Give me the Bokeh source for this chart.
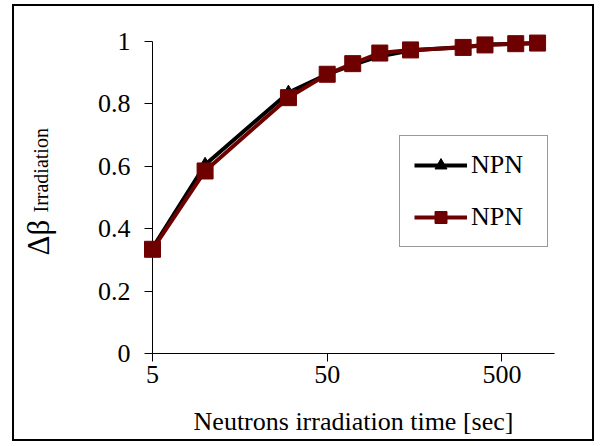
import math
from bokeh.plotting import figure
from bokeh.models import FixedTicker, Legend, LegendItem
from bokeh.core.properties import value
from bokeh.embed import file_html
from bokeh.resources import INLINE

# ---- data ----
time_s = [5, 10, 30, 50, 70, 100, 150, 300, 400, 600, 800]
npn_black = [0.338, 0.605, 0.836, 0.895, 0.925, 0.953, 0.971, 0.982, 0.990, 0.992, 0.995]
npn_red = [0.334, 0.585, 0.820, 0.895, 0.929, 0.963, 0.973, 0.981, 0.989, 0.993, 0.995]
x_ticks = [5, 50, 500]
x_tick_labels = ["5", "50", "500"]
y_ticks = [0, 0.2, 0.4, 0.6, 0.8, 1]
y_tick_labels = ["0", "0.2", "0.4", "0.6", "0.8", "1"]
series_labels = ["NPN", "NPN"]
x_title = "Neutrons irradiation time [sec]"
y_title = "Δβ"
y_title_sub = "Irradiation"

FONT = "Liberation Serif"
RED = "#6e0000"
X0, X1 = 5, 1000
FRAME_W, FRAME_H = 402, 312

p = figure(width=582, height=437, x_axis_type="log", x_range=(X0, X1), y_range=(0, 1),
           output_backend="svg", toolbar_location=None,
           min_border_left=138, min_border_right=42, min_border_top=35, min_border_bottom=90)
p.styles = {"border": "2px solid black", "margin-left": "12px", "margin-top": "4px"}
p.outline_line_color = None
p.grid.visible = False
p.background_fill_color = "white"
p.border_fill_color = "white"

# axes
p.xaxis.ticker = FixedTicker(ticks=x_ticks)
p.xaxis.major_label_overrides = dict(zip(x_ticks, x_tick_labels))
p.yaxis.ticker = FixedTicker(ticks=y_ticks)
p.yaxis.major_label_overrides = dict(zip(y_ticks, y_tick_labels))
for ax in (p.xaxis, p.yaxis):
    ax.minor_tick_line_color = None
    ax.major_tick_in = 0
    ax.major_tick_out = 8
    ax.axis_line_color = "black"
    ax.major_tick_line_color = "black"
    ax.major_label_text_font = FONT
    ax.major_label_text_font_size = "26px"
    ax.major_label_text_color = "black"
p.yaxis.major_label_standoff = 14
p.xaxis.major_label_standoff = 4
p.xaxis.axis_label = x_title
p.xaxis.axis_label_text_font = FONT
p.xaxis.axis_label_text_font_size = "26px"
p.xaxis.axis_label_text_font_style = "normal"
p.xaxis.axis_label_text_color = "black"
p.xaxis.axis_label_standoff = 21

# series
l1 = p.line(time_s, npn_black, line_color="black", line_width=4, level="overlay")
s1 = p.scatter(time_s, npn_black, marker="triangle", size=13, fill_color="black",
               line_color="black", level="overlay")
l2 = p.line(time_s, npn_red, line_color=RED, line_width=4, level="overlay")
s2 = p.scatter(time_s, npn_red, marker="square", size=16, fill_color=RED,
               line_color=RED, level="overlay")

legend = Legend(items=[LegendItem(label=series_labels[0], renderers=[l1, s1]),
                       LegendItem(label=series_labels[1], renderers=[l2, s2])],
                location=(247, 106), orientation="vertical")
legend.label_text_font = FONT
legend.label_text_font_size = "26px"
legend.label_text_color = "black"
legend.glyph_width = 53
legend.glyph_height = 30
legend.label_height = 30
legend.label_width = 62
legend.label_standoff = 4
legend.spacing = 22
legend.padding = 14
legend.margin = 0
legend.border_line_color = "#333333"
legend.border_line_width = 1
legend.background_fill_alpha = 1
p.add_layout(legend, "center")

# y-axis title drawn as text glyphs left of the frame (data coordinates)
decade_px = FRAME_W / math.log10(X1 / X0)
def x_at(px):
    return X0 * 10 ** (px / decade_px)

p.text(x=[x_at(-114)], y=[98 / FRAME_H], text=[y_title], angle=math.pi / 2,
       text_font=value(FONT), text_font_size="31px", text_align="left",
       text_baseline="alphabetic", text_color="black", level="overlay")
p.text(x=[x_at(-112)], y=[141 / FRAME_H], text=[y_title_sub], angle=math.pi / 2,
       text_font=value(FONT), text_font_size="20px", text_align="left",
       text_baseline="alphabetic", text_color="black", level="overlay")

open("out.html", "w").write(file_html(p, INLINE))
